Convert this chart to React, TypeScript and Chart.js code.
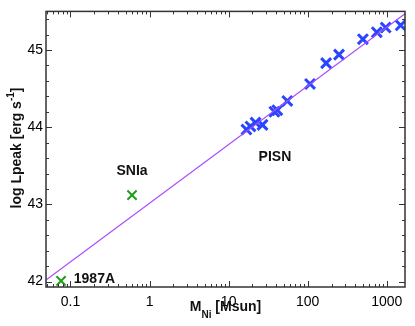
import React, { useEffect, useRef } from 'react';
import { Chart, registerables } from 'chart.js';
Chart.register(...registerables);

// ---- data ----
const lineMass = [0.049, 1700];
const lineLum = [42.02, 45.47];

const pisnMass = [16.8, 18.9, 21.9, 26.8, 37.9, 41.3, 55.2, 107, 171, 249, 499, 748, 970, 1500];
const pisnLum = [43.97, 44.01, 44.06, 44.03, 44.2, 44.22, 44.34, 44.56, 44.83, 44.94, 45.14, 45.23, 45.29, 45.32];

const obsNames = ['1987A', 'SNIa'];
const obsMass = [0.076, 0.6];
const obsLum = [42.01, 43.12];

const xTickValues = [0.1, 1, 10, 100, 1000];
const xTickLabels = ['0.1', '1', '10', '100', '1000'];
const yTickValues = [42, 43, 44, 45];

const labelTexts = ['SNIa', 'PISN', '1987A'];
const labelMass = [0.6, 38.5, 0.11];
const labelLum = [43.43, 43.61, 42.03];
const labelAlign: CanvasTextAlign[] = ['center', 'center', 'left'];

const FONT = "'Liberation Sans', Arial, Helvetica, sans-serif";

const framePlugin = {
  id: 'frame',
  afterDraw(chart: any) {
    const { ctx, chartArea: a, scales } = chart;
    const x = scales.x;
    const y = scales.y;
    ctx.save();
    // tick marks (inside, all four sides)
    ctx.strokeStyle = '#333';
    ctx.lineWidth = 1;
    ctx.beginPath();
    for (let e = -2; e <= 3; e++) {
      for (let m = 1; m <= 9; m++) {
        const v = m * Math.pow(10, e);
        if (v < x.min || v > x.max) continue;
        const px = Math.round(x.getPixelForValue(v)) + 0.5;
        const len = m === 1 ? 6 : 3;
        ctx.moveTo(px, a.bottom);
        ctx.lineTo(px, a.bottom - len);
        ctx.moveTo(px, a.top);
        ctx.lineTo(px, a.top + len);
      }
    }
    for (let i = 210; i <= 227; i++) {
      const v = i / 5;
      if (v < y.min || v > y.max) continue;
      const py = Math.round(y.getPixelForValue(v)) + 0.5;
      const len = i % 5 === 0 ? 6 : 3;
      ctx.moveTo(a.left, py);
      ctx.lineTo(a.left + len, py);
      ctx.moveTo(a.right, py);
      ctx.lineTo(a.right - len, py);
    }
    ctx.stroke();
    // frame
    ctx.lineWidth = 1.5;
    ctx.strokeStyle = '#333';
    ctx.strokeRect(a.left, a.top, a.right - a.left, a.bottom - a.top);

    // annotations
    ctx.fillStyle = '#111';
    ctx.font = `bold 14px ${FONT}`;
    ctx.textBaseline = 'middle';
    labelTexts.forEach((t, i) => {
      ctx.textAlign = labelAlign[i];
      ctx.fillText(t, x.getPixelForValue(labelMass[i]), y.getPixelForValue(labelLum[i]));
    });

    // x title: M_Ni [Msun]
    ctx.textAlign = 'left';
    ctx.textBaseline = 'alphabetic';
    const big = `bold 14px ${FONT}`;
    const small = `bold 10px ${FONT}`;
    ctx.font = big;
    const wM = ctx.measureText('M').width;
    const wRest = ctx.measureText(' [Msun]').width;
    ctx.font = small;
    const wNi = ctx.measureText('Ni').width;
    const total = wM + wNi + wRest;
    let cx = (a.left + a.right) / 2 - total / 2;
    const by = 311;
    ctx.font = big;
    ctx.fillText('M', cx, by);
    cx += wM;
    ctx.font = small;
    ctx.fillText('Ni', cx, by + 7);
    cx += wNi;
    ctx.font = big;
    ctx.fillText(' [Msun]', cx, by);

    // y title: log Lpeak [erg s^-1]
    ctx.save();
    ctx.translate(20.5, 148);
    ctx.rotate(-Math.PI / 2);
    ctx.font = big;
    const p1 = 'log Lpeak [erg s';
    const w1 = ctx.measureText(p1).width;
    const w3 = ctx.measureText(']').width;
    ctx.font = small;
    const w2 = ctx.measureText('-1').width;
    let tx = -(w1 + w2 + w3) / 2;
    ctx.font = big;
    ctx.fillText(p1, tx, 0);
    tx += w1;
    ctx.font = small;
    ctx.fillText('-1', tx, -7);
    tx += w2;
    ctx.font = big;
    ctx.fillText(']', tx, 0);
    ctx.restore();

    ctx.restore();
  },
};

export default function App() {
  const ref = useRef<HTMLCanvasElement | null>(null);
  useEffect(() => {
    if (!ref.current) return;
    const chart = new Chart(ref.current, {
      type: 'scatter',
      data: {
        datasets: [
          {
            type: 'line',
            label: 'fit',
            data: lineMass.map((m, i) => ({ x: m, y: lineLum[i] })),
            borderColor: '#a94dff',
            borderWidth: 1.2,
            pointRadius: 0,
            fill: false,
          } as any,
          {
            label: 'PISN',
            data: pisnMass.map((m, i) => ({ x: m, y: pisnLum[i] })),
            pointStyle: 'crossRot',
            pointRadius: 7,
            pointBorderWidth: 3,
            borderColor: '#2a45ff',
            backgroundColor: '#2a45ff',
          },
          {
            label: obsNames.join(','),
            data: obsMass.map((m, i) => ({ x: m, y: obsLum[i] })),
            pointStyle: 'crossRot',
            pointRadius: 6.5,
            pointBorderWidth: 2,
            borderColor: '#1f9e1a',
            backgroundColor: '#1f9e1a',
          },
        ],
      },
      options: {
        animation: false,
        responsive: false,
        devicePixelRatio: 1,
        layout: { padding: { top: 3, right: 9, left: 0, bottom: 0 } },
        plugins: { legend: { display: false }, tooltip: { enabled: false } },
        scales: {
          x: {
            type: 'logarithmic',
            min: 0.049,
            max: 1700,
            grid: { display: false, drawTicks: false },
            border: { display: false },
            afterBuildTicks: (s: any) => {
              s.ticks = xTickValues.map((v) => ({ value: v }));
            },
            afterFit: (s: any) => {
              s.height = 39;
            },
            ticks: {
              autoSkip: false,
              maxRotation: 0,
              padding: 7,
              color: '#000',
              font: { family: FONT, size: 14 },
              callback: (v: any) => {
                const i = xTickValues.indexOf(Number(v));
                return i >= 0 ? xTickLabels[i] : '';
              },
            },
          },
          y: {
            type: 'linear',
            min: 41.93,
            max: 45.5,
            grid: { display: false, drawTicks: false },
            border: { display: false },
            afterBuildTicks: (s: any) => {
              s.ticks = yTickValues.map((v) => ({ value: v }));
            },
            afterFit: (s: any) => {
              s.width = 46;
            },
            ticks: {
              autoSkip: false,
              padding: 3,
              color: '#000',
              font: { family: FONT, size: 14 },
              callback: (v: any) => String(v),
            },
          },
        },
      },
      plugins: [framePlugin],
    });
    return () => chart.destroy();
  }, []);
  return (
    <div style={{ position: 'fixed', left: 0, top: 0, width: 415, height: 326, background: '#fff' }}>
      <canvas ref={ref} width={415} height={326} style={{ display: 'block' }} />
    </div>
  );
}
